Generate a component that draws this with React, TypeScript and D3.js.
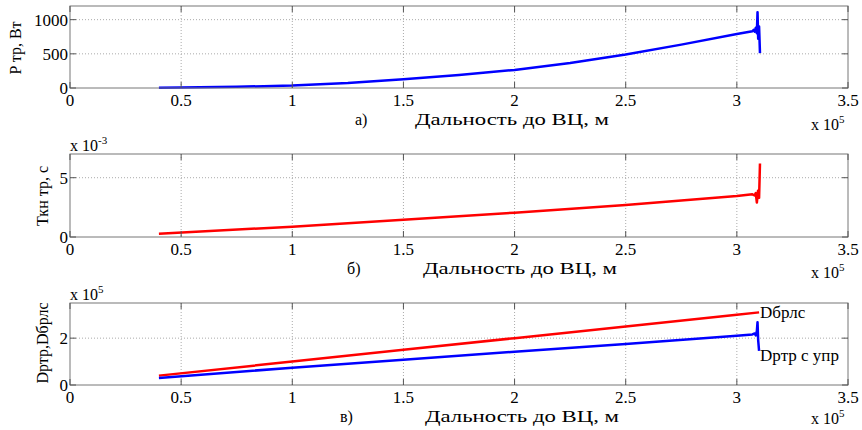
import React from 'react'
import {scaleLinear, line} from 'd3'

const width = 862
const height = 430

// distance, x 1e5 m
const xTicks = [0, 0.5, 1, 1.5, 2, 2.5, 3, 3.5]
const xTickLabels = ['0', '0.5', '1', '1.5', '2', '2.5', '3', '3.5']

// a) power, W
const powerX = [0.4, 0.5, 0.75, 1, 1.25, 1.5, 1.75, 2, 2.25, 2.5, 2.75, 3, 3.07, 3.075, 3.08, 3.085, 3.09, 3.093, 3.096, 3.1, 3.104]
const powerY = [5, 8, 18, 35, 72, 128, 192, 265, 365, 490, 635, 790, 830, 850, 825, 880, 800, 1110, 720, 900, 510]

// б) time, x 1e-3 s
const timeX = [0.4, 1, 1.5, 2, 2.5, 3, 3.07, 3.08, 3.085, 3.09, 3.095, 3.1, 3.104]
const timeY = [0.28, 0.87, 1.45, 2.05, 2.7, 3.45, 3.6, 3.5, 3.7, 2.9, 3.9, 3.3, 6.2]

// в) ranges, x 1e5 m
const rlsX = [0.4, 1, 1.5, 2, 2.5, 3, 3.1]
const rlsY = [0.4, 1.0, 1.5, 2.0, 2.5, 3.0, 3.1]
const rtrX = [0.4, 1, 1.5, 2, 2.5, 3, 3.07, 3.08, 3.085, 3.09, 3.093, 3.096, 3.1]
const rtrY = [0.3, 0.74, 1.08, 1.42, 1.75, 2.1, 2.16, 2.2, 2.12, 2.3, 2.68, 1.9, 1.46]

const left = 70
const right = 848
const font = "'Liberation Serif', 'Times New Roman', serif"

const panels = [
  {top: 6, bottom: 88, yMax: 1200, yTicks: [0, 500, 1000], yLabel: 'P тр, Вт', labelX: 21, labelY: 48, letter: 'а)', letterX: 355, titleX: 415, expo: null, x10dy: 42},
  {top: 154, bottom: 237, yMax: 7, yTicks: [0, 5], yLabel: 'Ткн тр, с', labelX: 48, labelY: 196, letter: 'б)', letterX: 347, titleX: 423, expo: '-3', x10dy: 41},
  {top: 303, bottom: 385, yMax: 3.5, yTicks: [0, 2], yLabel: 'Dртр,Dбрлс', labelX: 48, labelY: 343, letter: 'в)', letterX: 340, titleX: 425, expo: '5', x10dy: 39},
]

const xScale = scaleLinear().domain([0, 3.5]).range([left, right])

function Panel({p, series}) {
  const yScale = scaleLinear().domain([0, p.yMax]).range([p.bottom, p.top])
  const path = line().x(d => xScale(d[0])).y(d => yScale(d[1]))
  return (
    <g>
      <rect x={left} y={p.top} width={right - left} height={p.bottom - p.top} fill="white" />
      {xTicks.slice(1, -1).map(t => (
        <line key={'gx' + t} x1={xScale(t)} x2={xScale(t)} y1={p.top} y2={p.bottom} stroke="#aaa" strokeDasharray="1,2" />
      ))}
      {p.yTicks.slice(1).map(t => (
        <line key={'gy' + t} x1={left} x2={right} y1={yScale(t)} y2={yScale(t)} stroke="#aaa" strokeDasharray="1,2" />
      ))}
      {series.map((s, i) => (
        <path key={i} d={path(s.x.map((v, j) => [v, s.y[j]]))} fill="none" stroke={s.color} strokeWidth={2.5} strokeLinejoin="round" />
      ))}
      <rect x={left} y={p.top} width={right - left} height={p.bottom - p.top} fill="none" stroke="#777" strokeWidth={1} />
      {xTicks.map(t => (
        <g key={'tx' + t}>
          <line x1={xScale(t)} x2={xScale(t)} y1={p.bottom} y2={p.bottom - 6} stroke="#555" />
          <line x1={xScale(t)} x2={xScale(t)} y1={p.top} y2={p.top + 6} stroke="#555" />
        </g>
      ))}
      {p.yTicks.map(t => (
        <g key={'ty' + t}>
          <line x1={left} x2={left + 6} y1={yScale(t)} y2={yScale(t)} stroke="#555" />
          <line x1={right} x2={right - 6} y1={yScale(t)} y2={yScale(t)} stroke="#555" />
          <text x={left - 2} y={yScale(t) + 6} textAnchor="end" fontSize={17} fontFamily={font}>{t}</text>
        </g>
      ))}
      {xTicks.map((t, i) => (
        <text key={'lx' + t} x={xScale(t)} y={p.bottom + 18} textAnchor="middle" fontSize={17} fontFamily={font}>{xTickLabels[i]}</text>
      ))}
      <text x={p.letterX} y={p.bottom + 37} fontSize={16} fontFamily={font}>{p.letter}</text>
      <text x={p.titleX} y={p.bottom + 37} fontSize={16} fontFamily={font} textLength={194} lengthAdjust="spacingAndGlyphs">Дальность до ВЦ, м</text>
      <text x={811} y={p.bottom + p.x10dy} fontSize={16} fontFamily={font}>x 10<tspan dy={-7} fontSize={11}>5</tspan></text>
      {p.expo && (
        <text x={left} y={p.top - 3} fontSize={16} fontFamily={font}>x 10<tspan dy={-7} fontSize={11}>{p.expo}</tspan></text>
      )}
      <text transform={`translate(${p.labelX},${p.labelY}) rotate(-90)`} textAnchor="middle" fontSize={16} fontFamily={font}>{p.yLabel}</text>
    </g>
  )
}

export default function App() {
  const y3 = scaleLinear().domain([0, 3.5]).range([panels[2].bottom, panels[2].top])
  return (
    <svg width={width} height={height} style={{display: 'block', position: 'absolute', left: 0, top: 0}}>
      <rect width={width} height={height} fill="white" />
      <Panel p={panels[0]} series={[{x: powerX, y: powerY, color: '#0000ff'}]} />
      <Panel p={panels[1]} series={[{x: timeX, y: timeY, color: '#ff0000'}]} />
      <Panel p={panels[2]} series={[{x: rlsX, y: rlsY, color: '#ff0000'}, {x: rtrX, y: rtrY, color: '#0000ff'}]} />
      <text x={xScale(3.1) + 1} y={y3(rlsY[rlsY.length - 1]) + 6} fontSize={17} fontFamily={font}>Dбрлс</text>
      <text x={xScale(3.1) + 1} y={y3(1.3) + 6} fontSize={17} fontFamily={font}>Dртр с упр</text>
    </svg>
  )
}
